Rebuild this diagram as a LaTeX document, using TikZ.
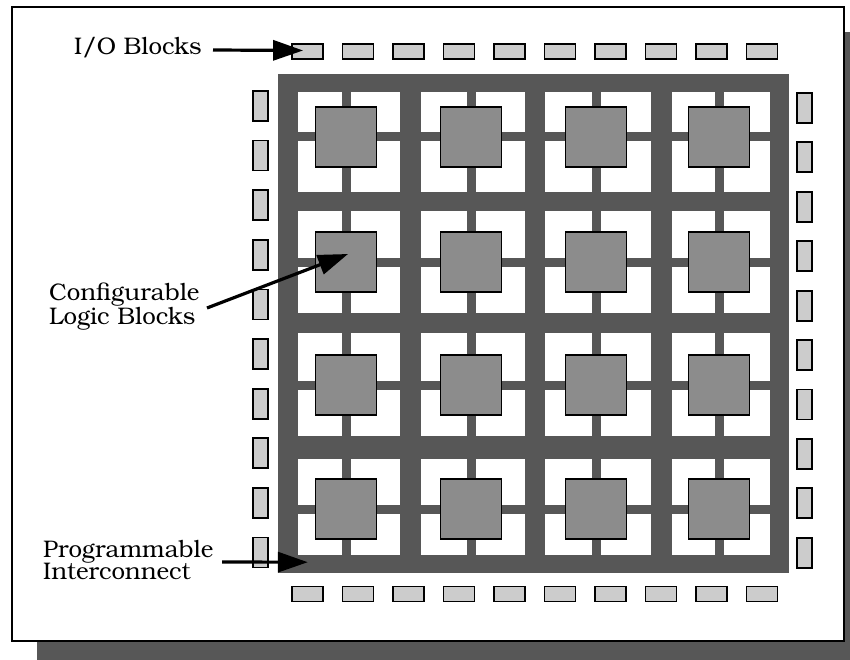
\documentclass[tikz,border=0pt]{standalone}
\usepackage{fontspec}
\setmainfont{texgyrebonum}[Extension=.otf, UprightFont=*-regular, BoldFont=*-bold]
\usetikzlibrary{arrows.meta,calc}
\definecolor{darkgrid}{gray}{0.34}
\definecolor{clbgray}{gray}{0.55}
\definecolor{iogray}{gray}{0.80}
\tikzset{
  iobh/.style={draw=black, line width=1.8pt, fill=iogray, inner sep=0pt, minimum width=31pt, minimum height=15pt},
  iobv/.style={draw=black, line width=1.8pt, fill=iogray, inner sep=0pt, minimum width=15pt, minimum height=30pt},
  clb/.style={draw=black, line width=1.6pt, fill=clbgray, inner sep=0pt, minimum width=61pt, minimum height=60pt},
  gridbox/.style={fill=darkgrid, inner sep=0pt, minimum width=511pt, minimum height=499pt},
  lab/.style={font=\fontsize{24}{22.7}\selectfont, inner sep=0pt, align=left},
  conn/.style={line width=3.2pt, -{Triangle[length=30pt,width=20pt]}}
}
\begin{document}
\begin{tikzpicture}[x=1pt,y=-1pt]
\useasboundingbox (0,0) rectangle (850,660);
% shadow and frame
\fill[darkgrid] (37,32) rectangle (850,660);
\draw[line width=2.2pt, fill=white] (12,7) rectangle (844,641);
% interconnect grid
\node[gridbox] (grid) at (533.5,323.5) {};
\foreach \xl/\xr/\cx [count=\i] in {298/400/346, 421/525/471, 545/651/596, 672/770/719} {
  \foreach \yt/\yb/\cy [count=\j] in {92/192/137, 211/313/262, 333/436/385, 459/555/509} {
    \fill[white] (\xl,\yt) rectangle (\xr,\yb);
    \fill[darkgrid] ({\cx-4.5},\yt) rectangle ({\cx+4.5},\yb);
    \fill[darkgrid] (\xl,{\cy-4.5}) rectangle (\xr,{\cy+4.5});
    \node[clb] (clb\j\i) at (\cx,\cy) {};
  }
}
% I/O blocks
\foreach \i in {0,...,9} {
  \node[iobh] (iot\i) at ({307.5+50.5*\i},51.5) {};
  \node[iobh] (iob\i) at ({307.5+50.5*\i},594) {};
  \node[iobv] (iol\i) at (260.5,{106+49.6*\i}) {};
  \node[iobv] (ior\i) at (804.5,{108+49.4*\i}) {};
}
% labels
\node[lab, anchor=base west] (ioL) at (74,55) {I/O Blocks};
\node[lab, anchor=west] (cfgL) at (49,307) {Configurable\\Logic Blocks};
\node[lab, anchor=west] (prgL) at (43,560) {Programmable\\Interconnect};
% connectors
\coordinate (iotail) at (213,50);
\coordinate (iotip) at ($(iot0.west)+(12,-1)$);
\coordinate (cfgtail) at (207,308);
\coordinate (clbtip) at ($(clb21.center)+(2,-8)$);
\coordinate (prgtail) at (222,562);
\coordinate (prgtip) at ($(grid.south west)+(30,-11)$);
\draw[conn] (iotail) -- (iotip);
\draw[conn] (cfgtail) -- (clbtip);
\draw[conn] (prgtail) -- (prgtip);
\end{tikzpicture}
\end{document}
